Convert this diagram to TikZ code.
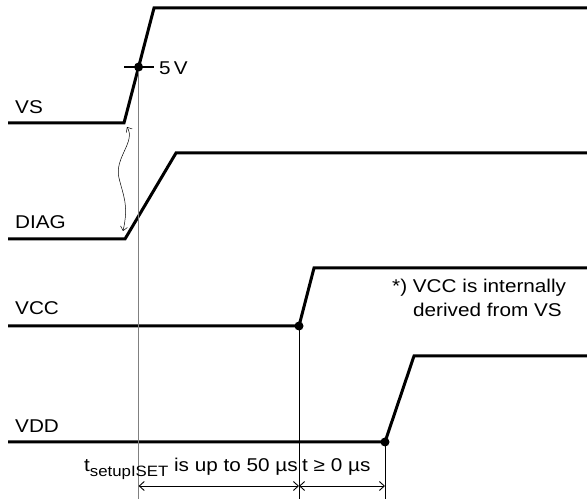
\documentclass[tikz,border=0pt]{standalone}
\usepackage{fontspec}
\setmainfont{Liberation Sans}[FakeStretch=1.12]
\usetikzlibrary{arrows.meta}

\begin{document}
\begin{tikzpicture}[x=1pt, y=-1pt,
		wave/.style={line width=3pt},
		thinline/.style={line width=0.9pt},
		dimarrow/.style={line width=0.9pt, {Straight Barb[length=5pt,width=9pt]}-{Straight Barb[length=5pt,width=9pt]}},
		lbl/.style={anchor=base west, inner sep=0pt, font=\fontsize{18.5}{22}\selectfont}]
		\useasboundingbox (0,0) rectangle (587,502);
		\coordinate (vsstart) at (124,123);		\coordinate (fivev) at (138.6,67);
		\coordinate (diagstart) at (125,239);	\coordinate (vccstart) at (299,326);
		\coordinate (vddstart) at (385,442);
		\coordinate (wavetop) at (127,127);		\coordinate (wavebot) at (123,231);
		\draw[wave] (8,123) -- (vsstart) -- (154,8) -- (587,8);			\node[lbl] (vslbl) at (15,114) {VS};
		\draw[wave] (8,239) -- (diagstart) -- (176,153) -- (587,153);	\node[lbl] (diaglbl) at (15,229) {DIAG};
		\draw[wave] (8,326) -- (vccstart) -- (314,268) -- (587,268);	\node[lbl] (vcclbl) at (15,315) {VCC};
		\draw[wave] (8,442) -- (vddstart) -- (414,356) -- (587,356);	\node[lbl] (vddlbl) at (15,433) {VDD};
		\draw[thinline, gray] (fivev) -- (fivev |- 0,499);
		\draw[thinline] (vccstart) -- (vccstart |- 0,499);
		\draw[thinline] (vddstart) -- (vddstart |- 0,499);
		\draw[line width=1.3pt] (124,67) -- (154,67);
		\fill (fivev) circle (4.5pt);	\fill (vccstart) circle (4.5pt);	\fill (vddstart) circle (4.5pt);
		\node[lbl] (fivevlbl) at (159,75) {5\,V};
		\draw[line width=0.5pt, {Straight Barb[length=4pt,width=7pt]}-{Straight Barb[length=4pt,width=7pt]}]
			(wavetop) .. controls (136,142) and (114,158) .. (119,178) .. controls (123,195) and (129,205) .. (wavebot);
		\coordinate (dimleft) at (fivev |- 0,486);	\coordinate (dimmid) at (vccstart |- 0,486);
		\coordinate (dimright) at (vddstart |- 0,486);
		\draw[dimarrow] (dimleft) -- (dimmid);
		\draw[dimarrow] (dimmid) -- (dimright);
		\node[lbl, anchor=base east] (setuplbl) at (298,472)
			{t\raisebox{-5pt}{\fontsize{15}{17}\selectfont setupISET} is up to 50 µs};
		\node[lbl] (tlbl) at (302,472) {t ≥ 0 µs};
		\node[lbl] (note1) at (392,293) {*) VCC is internally};
		\node[lbl] (note2) at (413,317) {derived from VS};
	\end{tikzpicture}
\end{document}
